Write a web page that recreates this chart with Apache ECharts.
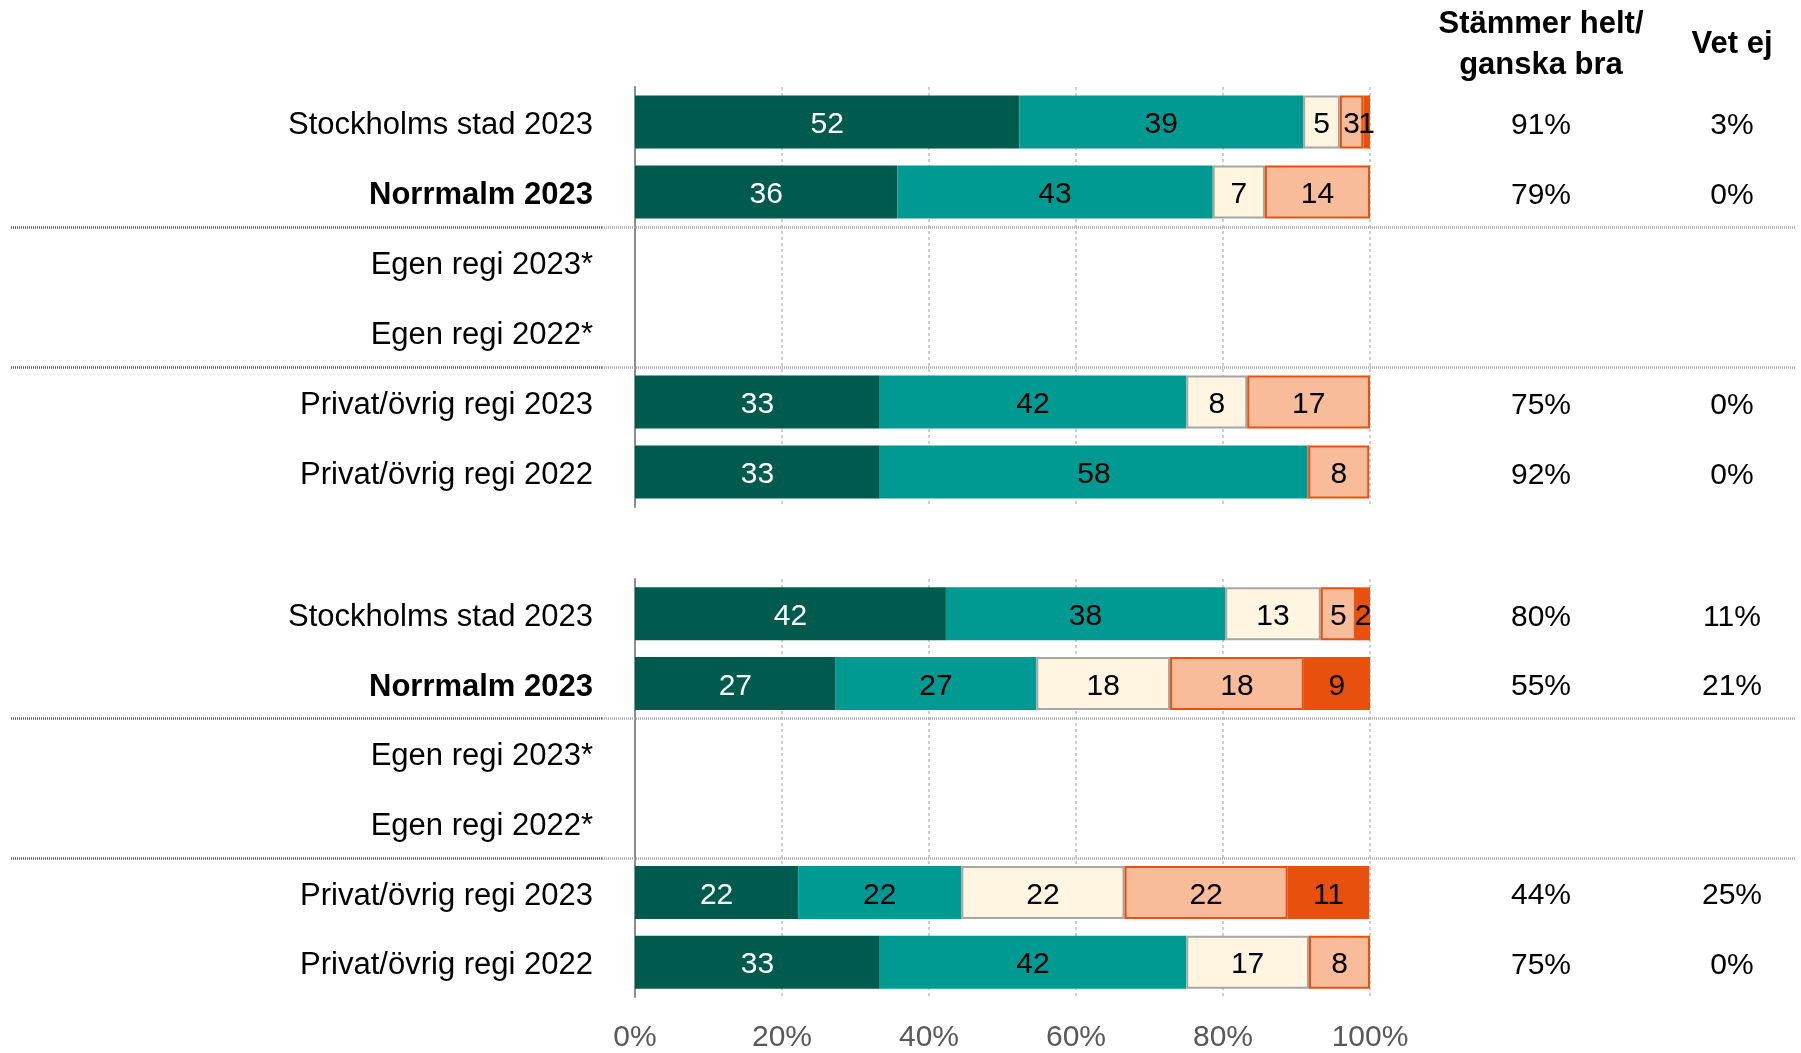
<!DOCTYPE html>
<html><head><meta charset="utf-8">
<script src="https://cdn.jsdelivr.net/npm/echarts@6/dist/echarts.min.js"></script>
<style>html,body{margin:0;padding:0;background:#fff}#c{width:1801px;height:1053px}</style>
</head><body><div id="c"></div>
<script>
const categories = ['Stockholms stad 2023', 'Norrmalm 2023', 'Egen regi 2023*', 'Egen regi 2022*', 'Privat/övrig regi 2023', 'Privat/övrig regi 2022'];
const boldCategory = 'Norrmalm 2023';
const seriesNames = ['Stämmer helt', 'Stämmer ganska bra', 'Varken eller', 'Stämmer ganska dåligt', 'Stämmer inte alls'];
const colHeader1 = 'Stämmer helt/\nganska bra';
const colHeader2 = 'Vet ej';

// Group 1 (upper block)
const g1Helt          = [52.3, 35.7, null, null, 33.3, 33.3];
const g1Ganska        = [38.6, 42.9, null, null, 41.7, 58.3];
const g1Varken        = [5.0, 7.1, null, null, 8.3, 0];
const g1GanskaDaligt  = [3.2, 14.3, null, null, 16.7, 8.3];
const g1InteAlls      = [0.9, 0, null, null, 0, 0];
const g1Total         = [91, 79, null, null, 75, 92];
const g1VetEj         = [3, 0, null, null, 0, 0];

// Group 2 (lower block)
const g2Helt          = [42.3, 27.3, null, null, 22.2, 33.3];
const g2Ganska        = [38.0, 27.3, null, null, 22.2, 41.7];
const g2Varken        = [13.0, 18.2, null, null, 22.2, 16.7];
const g2GanskaDaligt  = [4.8, 18.2, null, null, 22.2, 8.3];
const g2InteAlls      = [1.9, 9.0, null, null, 11.1, 0];
const g2Total         = [80, 55, null, null, 44, 75];
const g2VetEj         = [11, 21, null, null, 25, 0];

const FONT = '"Liberation Sans", Arial, sans-serif';
const colors = ['#005B4F', '#009A92', '#FFF5E1', '#F8BC9B', '#E8500E'];
const borders = [null, null, '#A6A6A6', '#E8500E', null];
const labelColors = ['#ffffff', '#000000', '#000000', '#000000', '#000000'];

function makeSeries(g, arrays) {
  return arrays.map((arr, k) => ({
    name: seriesNames[k],
    type: 'bar',
    stack: 'g' + g,
    xAxisIndex: g,
    yAxisIndex: g * 2,
    barWidth: 53,
    data: arr,
    itemStyle: {
      color: colors[k],
      borderColor: borders[k] || colors[k],
      borderWidth: borders[k] ? 2 : 0
    },
    label: {
      show: true,
      position: 'inside',
      offset: [0, 3],
      color: labelColors[k],
      fontSize: 30,
      fontFamily: FONT,
      formatter: p => (p.value == null || p.value === 0) ? '' : String(Math.round(p.value))
    },
    emphasis: { disabled: true }
  }));
}

function leftY(grid) {
  return {
    type: 'category', gridIndex: grid, data: categories, inverse: true,
    axisLine: { show: true, lineStyle: { color: '#8C8C8C', width: 2 } },
    axisTick: { show: false },
    splitLine: { show: false },
    axisLabel: {
      margin: 42, fontSize: 31, color: '#000', fontFamily: FONT,
      padding: [7, 0, 0, 0],
      formatter: v => v === boldCategory ? '{b|' + v + '}' : '{n|' + v + '}',
      rich: {
        b: { fontWeight: 'bold', fontSize: 31, fontFamily: FONT, color: '#000' },
        n: { fontSize: 31, fontFamily: FONT, color: '#000' }
      }
    }
  };
}
function rightY(grid, totals, vet) {
  return {
    type: 'category', gridIndex: grid, data: categories, inverse: true, position: 'right',
    axisLine: { show: false }, axisTick: { show: false }, splitLine: { show: false },
    axisLabel: {
      margin: 71,
      padding: [7, 0, 0, 0],
      formatter: (v, i) => totals[i] == null ? '' : '{a|' + totals[i] + '%}{c|' + vet[i] + '%}',
      rich: {
        a: { width: 200, align: 'center', fontSize: 30, fontFamily: FONT, color: '#000' },
        c: { width: 182, align: 'center', fontSize: 30, fontFamily: FONT, color: '#000' }
      }
    }
  };
}
function xAx(grid, showLabels) {
  return {
    type: 'value', gridIndex: grid, min: 0, max: 100, interval: 20,
    axisLine: { show: false }, axisTick: { show: false },
    splitLine: { show: true, lineStyle: { color: '#BFBFBF', width: 1.5, type: [3, 3] } },
    axisLabel: { show: showLabels, formatter: '{value}%', fontSize: 30, color: '#595959', fontFamily: FONT, margin: 26 }
  };
}

const chart = echarts.init(document.getElementById('c'));
chart.setOption({
  animation: false,
  backgroundColor: '#fff',
  grid: [
    { left: 635, right: 431, top: 87, height: 420 },
    { left: 635, right: 431, top: 579, height: 420 }
  ],
  xAxis: [xAx(0, false), xAx(1, true)],
  yAxis: [leftY(0), rightY(0, g1Total, g1VetEj), leftY(1), rightY(1, g2Total, g2VetEj)],
  series: [
    ...makeSeries(0, [g1Helt, g1Ganska, g1Varken, g1GanskaDaligt, g1InteAlls]),
    ...makeSeries(1, [g2Helt, g2Ganska, g2Varken, g2GanskaDaligt, g2InteAlls])
  ]
});

function mid(axis, a, b) {
  return (chart.convertToPixel({ yAxisIndex: axis }, categories[a]) +
          chart.convertToPixel({ yAxisIndex: axis }, categories[b])) / 2;
}
const seps = [mid(0, 1, 2), mid(0, 3, 4), mid(2, 1, 2), mid(2, 3, 4)];
const graphics = [];
seps.forEach(y => {
  y = Math.round(y) + 0.5;
  graphics.push({ type: 'line', shape: { x1: 11, y1: y, x2: 602, y2: y }, style: { stroke: '#5A5A5A', lineWidth: 2.5, lineDash: [1, 1] }, z: 10 });
  graphics.push({ type: 'line', shape: { x1: 602, y1: y, x2: 1795, y2: y }, style: { stroke: '#A8A8A8', lineWidth: 2.5, lineDash: [1, 1] }, z: 10 });
});
graphics.push({ type: 'text', x: 1541, y: 45, style: { text: colHeader1, font: 'bold 31px ' + FONT, fill: '#000', align: 'center', verticalAlign: 'middle', lineHeight: 41 } });
graphics.push({ type: 'text', x: 1732, y: 44, style: { text: colHeader2, font: 'bold 31px ' + FONT, fill: '#000', align: 'center', verticalAlign: 'middle' } });
chart.setOption({ graphic: graphics });
</script>
</body></html>
